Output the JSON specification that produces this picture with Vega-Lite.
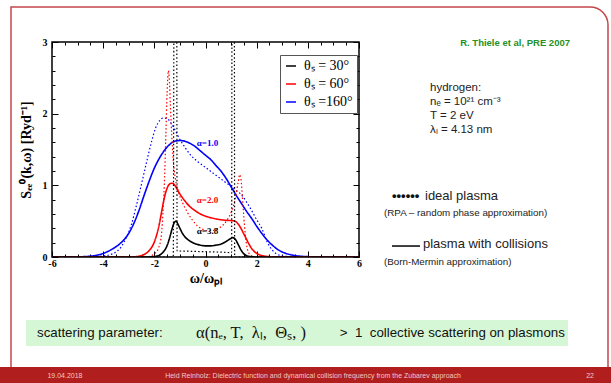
{
  "$schema": "https://vega.github.io/schema/vega-lite/v6.json",
  "width": 307,
  "height": 215,
  "autosize": {"type": "none"},
  "padding": {"left": 52, "top": 42, "right": 252, "bottom": 126},
  "background": "white",
  "config": {
    "view": {"stroke": "black", "strokeWidth": 1.5},
    "axis": {"labelColor": "black", "tickColor": "black", "titleColor": "black", "grid": false, "domain": false}
  },
  "datasets": {
    "curves": [
      {"theta":"160°","model":"BM","x":-6,"y":0},{"theta":"160°","model":"BM","x":-5,"y":0.003},{"theta":"160°","model":"BM","x":-4.5,"y":0.012},{"theta":"160°","model":"BM","x":-4,"y":0.05},{"theta":"160°","model":"BM","x":-3.6,"y":0.12},{"theta":"160°","model":"BM","x":-3.3,"y":0.2},{"theta":"160°","model":"BM","x":-3,"y":0.33},{"theta":"160°","model":"BM","x":-2.8,"y":0.47},{"theta":"160°","model":"BM","x":-2.6,"y":0.65},{"theta":"160°","model":"BM","x":-2.4,"y":0.86},{"theta":"160°","model":"BM","x":-2.2,"y":1.06},{"theta":"160°","model":"BM","x":-2,"y":1.24},{"theta":"160°","model":"BM","x":-1.8,"y":1.38},{"theta":"160°","model":"BM","x":-1.6,"y":1.49},{"theta":"160°","model":"BM","x":-1.4,"y":1.57},{"theta":"160°","model":"BM","x":-1.2,"y":1.615},{"theta":"160°","model":"BM","x":-1,"y":1.625},{"theta":"160°","model":"BM","x":-0.8,"y":1.615},{"theta":"160°","model":"BM","x":-0.6,"y":1.585},{"theta":"160°","model":"BM","x":-0.4,"y":1.54},{"theta":"160°","model":"BM","x":-0.2,"y":1.48},{"theta":"160°","model":"BM","x":0,"y":1.42},{"theta":"160°","model":"BM","x":0.2,"y":1.36},{"theta":"160°","model":"BM","x":0.4,"y":1.28},{"theta":"160°","model":"BM","x":0.6,"y":1.2},{"theta":"160°","model":"BM","x":0.8,"y":1.1},{"theta":"160°","model":"BM","x":1,"y":0.98},{"theta":"160°","model":"BM","x":1.2,"y":0.86},{"theta":"160°","model":"BM","x":1.4,"y":0.75},{"theta":"160°","model":"BM","x":1.6,"y":0.64},{"theta":"160°","model":"BM","x":1.8,"y":0.54},{"theta":"160°","model":"BM","x":2,"y":0.43},{"theta":"160°","model":"BM","x":2.2,"y":0.33},{"theta":"160°","model":"BM","x":2.4,"y":0.24},{"theta":"160°","model":"BM","x":2.6,"y":0.17},{"theta":"160°","model":"BM","x":2.8,"y":0.11},{"theta":"160°","model":"BM","x":3,"y":0.07},{"theta":"160°","model":"BM","x":3.3,"y":0.035},{"theta":"160°","model":"BM","x":3.6,"y":0.015},{"theta":"160°","model":"BM","x":4,"y":0.005},{"theta":"160°","model":"BM","x":4.5,"y":0.001},{"theta":"160°","model":"BM","x":6,"y":0},
      {"theta":"160°","model":"RPA","x":-6,"y":0},{"theta":"160°","model":"RPA","x":-4.5,"y":0.003},{"theta":"160°","model":"RPA","x":-4,"y":0.015},{"theta":"160°","model":"RPA","x":-3.6,"y":0.05},{"theta":"160°","model":"RPA","x":-3.3,"y":0.14},{"theta":"160°","model":"RPA","x":-3.1,"y":0.27},{"theta":"160°","model":"RPA","x":-2.9,"y":0.45},{"theta":"160°","model":"RPA","x":-2.7,"y":0.72},{"theta":"160°","model":"RPA","x":-2.5,"y":1.02},{"theta":"160°","model":"RPA","x":-2.3,"y":1.33},{"theta":"160°","model":"RPA","x":-2.1,"y":1.62},{"theta":"160°","model":"RPA","x":-1.95,"y":1.8},{"theta":"160°","model":"RPA","x":-1.8,"y":1.9},{"theta":"160°","model":"RPA","x":-1.65,"y":1.94},{"theta":"160°","model":"RPA","x":-1.5,"y":1.93},{"theta":"160°","model":"RPA","x":-1.35,"y":1.87},{"theta":"160°","model":"RPA","x":-1.2,"y":1.78},{"theta":"160°","model":"RPA","x":-1,"y":1.64},{"theta":"160°","model":"RPA","x":-0.8,"y":1.53},{"theta":"160°","model":"RPA","x":-0.6,"y":1.43},{"theta":"160°","model":"RPA","x":-0.3,"y":1.33},{"theta":"160°","model":"RPA","x":0,"y":1.25},{"theta":"160°","model":"RPA","x":0.3,"y":1.17},{"theta":"160°","model":"RPA","x":0.6,"y":1.09},{"theta":"160°","model":"RPA","x":0.9,"y":1.01},{"theta":"160°","model":"RPA","x":1.2,"y":0.93},{"theta":"160°","model":"RPA","x":1.4,"y":0.87},{"theta":"160°","model":"RPA","x":1.6,"y":0.77},{"theta":"160°","model":"RPA","x":1.8,"y":0.65},{"theta":"160°","model":"RPA","x":2,"y":0.52},{"theta":"160°","model":"RPA","x":2.2,"y":0.4},{"theta":"160°","model":"RPA","x":2.4,"y":0.22},{"theta":"160°","model":"RPA","x":2.6,"y":0.1},{"theta":"160°","model":"RPA","x":2.8,"y":0.04},{"theta":"160°","model":"RPA","x":3,"y":0.015},{"theta":"160°","model":"RPA","x":3.5,"y":0.002},{"theta":"160°","model":"RPA","x":6,"y":0},
      {"theta":"60°","model":"BM","x":-6,"y":0},{"theta":"60°","model":"BM","x":-3,"y":0.001},{"theta":"60°","model":"BM","x":-2.6,"y":0.01},{"theta":"60°","model":"BM","x":-2.4,"y":0.035},{"theta":"60°","model":"BM","x":-2.2,"y":0.09},{"theta":"60°","model":"BM","x":-2,"y":0.21},{"theta":"60°","model":"BM","x":-1.9,"y":0.32},{"theta":"60°","model":"BM","x":-1.8,"y":0.47},{"theta":"60°","model":"BM","x":-1.7,"y":0.66},{"theta":"60°","model":"BM","x":-1.6,"y":0.84},{"theta":"60°","model":"BM","x":-1.5,"y":0.96},{"theta":"60°","model":"BM","x":-1.4,"y":1.02},{"theta":"60°","model":"BM","x":-1.3,"y":1.03},{"theta":"60°","model":"BM","x":-1.2,"y":1},{"theta":"60°","model":"BM","x":-1.1,"y":0.94},{"theta":"60°","model":"BM","x":-1,"y":0.88},{"theta":"60°","model":"BM","x":-0.8,"y":0.78},{"theta":"60°","model":"BM","x":-0.6,"y":0.7},{"theta":"60°","model":"BM","x":-0.4,"y":0.645},{"theta":"60°","model":"BM","x":-0.2,"y":0.6},{"theta":"60°","model":"BM","x":0,"y":0.57},{"theta":"60°","model":"BM","x":0.3,"y":0.54},{"theta":"60°","model":"BM","x":0.6,"y":0.52},{"theta":"60°","model":"BM","x":0.9,"y":0.51},{"theta":"60°","model":"BM","x":1.1,"y":0.505},{"theta":"60°","model":"BM","x":1.2,"y":0.49},{"theta":"60°","model":"BM","x":1.3,"y":0.45},{"theta":"60°","model":"BM","x":1.4,"y":0.39},{"theta":"60°","model":"BM","x":1.5,"y":0.32},{"theta":"60°","model":"BM","x":1.6,"y":0.25},{"theta":"60°","model":"BM","x":1.7,"y":0.18},{"theta":"60°","model":"BM","x":1.8,"y":0.12},{"theta":"60°","model":"BM","x":1.9,"y":0.08},{"theta":"60°","model":"BM","x":2,"y":0.05},{"theta":"60°","model":"BM","x":2.2,"y":0.02},{"theta":"60°","model":"BM","x":2.5,"y":0.005},{"theta":"60°","model":"BM","x":3,"y":0},{"theta":"60°","model":"BM","x":6,"y":0},
      {"theta":"60°","model":"RPA","x":-6,"y":0},{"theta":"60°","model":"RPA","x":-2.3,"y":0.002},{"theta":"60°","model":"RPA","x":-2.1,"y":0.02},{"theta":"60°","model":"RPA","x":-1.95,"y":0.06},{"theta":"60°","model":"RPA","x":-1.83,"y":0.13},{"theta":"60°","model":"RPA","x":-1.72,"y":0.32},{"theta":"60°","model":"RPA","x":-1.65,"y":0.7},{"theta":"60°","model":"RPA","x":-1.6,"y":1.1},{"theta":"60°","model":"RPA","x":-1.55,"y":1.7},{"theta":"60°","model":"RPA","x":-1.5,"y":2.3},{"theta":"60°","model":"RPA","x":-1.45,"y":2.6},{"theta":"60°","model":"RPA","x":-1.41,"y":2.45},{"theta":"60°","model":"RPA","x":-1.37,"y":2.1},{"theta":"60°","model":"RPA","x":-1.32,"y":1.7},{"theta":"60°","model":"RPA","x":-1.26,"y":1.35},{"theta":"60°","model":"RPA","x":-1.18,"y":1.1},{"theta":"60°","model":"RPA","x":-1.05,"y":0.9},{"theta":"60°","model":"RPA","x":-0.9,"y":0.76},{"theta":"60°","model":"RPA","x":-0.7,"y":0.62},{"theta":"60°","model":"RPA","x":-0.5,"y":0.51},{"theta":"60°","model":"RPA","x":-0.3,"y":0.43},{"theta":"60°","model":"RPA","x":-0.1,"y":0.385},{"theta":"60°","model":"RPA","x":0.1,"y":0.365},{"theta":"60°","model":"RPA","x":0.3,"y":0.37},{"theta":"60°","model":"RPA","x":0.5,"y":0.4},{"theta":"60°","model":"RPA","x":0.7,"y":0.45},{"theta":"60°","model":"RPA","x":0.85,"y":0.52},{"theta":"60°","model":"RPA","x":1,"y":0.62},{"theta":"60°","model":"RPA","x":1.1,"y":0.72},{"theta":"60°","model":"RPA","x":1.2,"y":0.88},{"theta":"60°","model":"RPA","x":1.28,"y":1.05},{"theta":"60°","model":"RPA","x":1.34,"y":1.15},{"theta":"60°","model":"RPA","x":1.39,"y":1.08},{"theta":"60°","model":"RPA","x":1.44,"y":0.85},{"theta":"60°","model":"RPA","x":1.5,"y":0.55},{"theta":"60°","model":"RPA","x":1.56,"y":0.3},{"theta":"60°","model":"RPA","x":1.63,"y":0.12},{"theta":"60°","model":"RPA","x":1.72,"y":0.04},{"theta":"60°","model":"RPA","x":1.85,"y":0.01},{"theta":"60°","model":"RPA","x":2,"y":0},{"theta":"60°","model":"RPA","x":6,"y":0},
      {"theta":"30°","model":"BM","x":-6,"y":0},{"theta":"30°","model":"BM","x":-2.2,"y":0.001},{"theta":"30°","model":"BM","x":-2,"y":0.006},{"theta":"30°","model":"BM","x":-1.8,"y":0.025},{"theta":"30°","model":"BM","x":-1.65,"y":0.07},{"theta":"30°","model":"BM","x":-1.5,"y":0.16},{"theta":"30°","model":"BM","x":-1.4,"y":0.27},{"theta":"30°","model":"BM","x":-1.3,"y":0.4},{"theta":"30°","model":"BM","x":-1.22,"y":0.48},{"theta":"30°","model":"BM","x":-1.15,"y":0.5},{"theta":"30°","model":"BM","x":-1.08,"y":0.46},{"theta":"30°","model":"BM","x":-1,"y":0.4},{"theta":"30°","model":"BM","x":-0.9,"y":0.33},{"theta":"30°","model":"BM","x":-0.8,"y":0.28},{"theta":"30°","model":"BM","x":-0.6,"y":0.22},{"theta":"30°","model":"BM","x":-0.4,"y":0.185},{"theta":"30°","model":"BM","x":-0.2,"y":0.165},{"theta":"30°","model":"BM","x":0,"y":0.155},{"theta":"30°","model":"BM","x":0.2,"y":0.155},{"theta":"30°","model":"BM","x":0.4,"y":0.165},{"theta":"30°","model":"BM","x":0.6,"y":0.18},{"theta":"30°","model":"BM","x":0.8,"y":0.215},{"theta":"30°","model":"BM","x":0.95,"y":0.25},{"theta":"30°","model":"BM","x":1.07,"y":0.27},{"theta":"30°","model":"BM","x":1.17,"y":0.245},{"theta":"30°","model":"BM","x":1.27,"y":0.18},{"theta":"30°","model":"BM","x":1.37,"y":0.11},{"theta":"30°","model":"BM","x":1.47,"y":0.055},{"theta":"30°","model":"BM","x":1.6,"y":0.02},{"theta":"30°","model":"BM","x":1.8,"y":0.004},{"theta":"30°","model":"BM","x":2,"y":0},{"theta":"30°","model":"BM","x":6,"y":0},
      {"theta":"30°","model":"RPA","x":-6,"y":0},{"theta":"30°","model":"RPA","x":-1.26,"y":0},{"theta":"30°","model":"RPA","x":-1.23,"y":3.6},{"theta":"30°","model":"RPA","x":-1.125,"y":3.6},{"theta":"30°","model":"RPA","x":-1.11,"y":0.085},{"theta":"30°","model":"RPA","x":-0.8,"y":0.082},{"theta":"30°","model":"RPA","x":-0.4,"y":0.078},{"theta":"30°","model":"RPA","x":0,"y":0.074},{"theta":"30°","model":"RPA","x":0.4,"y":0.07},{"theta":"30°","model":"RPA","x":0.8,"y":0.065},{"theta":"30°","model":"RPA","x":1.02,"y":0.06},{"theta":"30°","model":"RPA","x":1.037,"y":3.6},{"theta":"30°","model":"RPA","x":1.127,"y":3.6},{"theta":"30°","model":"RPA","x":1.14,"y":0},{"theta":"30°","model":"RPA","x":6,"y":0}
    ]
  },
  "layer": [
    {
      "data": {"values": [{"x": -7.603, "x2": 15.733, "y": 3.488, "y2": -1.65}]},
      "mark": {"type": "rect", "filled": false, "stroke": "#c4474a", "strokeWidth": 1.5, "cornerRadiusTopRight": 18},
      "encoding": {
        "x": {"field": "x", "type": "quantitative", "scale": {"domain": [-6, 6], "nice": false}, "axis": null},
        "x2": {"field": "x2"},
        "y": {"field": "y", "type": "quantitative", "scale": {"domain": [0, 3], "nice": false}, "axis": null},
        "y2": {"field": "y2"}
      }
    },
    {
      "data": {"values": [{"x": -7.016, "x2": 14.17, "y": -0.879, "y2": -1.242}]},
      "mark": {"type": "rect", "fill": "#d6f7d6"},
      "encoding": {
        "x": {"field": "x", "type": "quantitative", "scale": {"domain": [-6, 6], "nice": false}, "axis": null},
        "x2": {"field": "x2"},
        "y": {"field": "y", "type": "quantitative", "scale": {"domain": [0, 3], "nice": false}, "axis": null},
        "y2": {"field": "y2"}
      }
    },
    {
      "data": {"values": [{"x": -8.1, "x2": 15.9, "y": -1.535, "y2": -1.8}]},
      "mark": {"type": "rect", "fill": "#b01e1e"},
      "encoding": {
        "x": {"field": "x", "type": "quantitative", "scale": {"domain": [-6, 6], "nice": false}, "axis": null},
        "x2": {"field": "x2"},
        "y": {"field": "y", "type": "quantitative", "scale": {"domain": [0, 3], "nice": false}, "axis": null},
        "y2": {"field": "y2"}
      }
    },
    {
      "data": {"name": "curves"},
      "mark": {"type": "line", "clip": true, "interpolate": "monotone"},
      "encoding": {
        "x": {"field": "x", "type": "quantitative", "scale": {"domain": [-6, 6], "nice": false},
          "axis": {"orient": "bottom", "values": [-6,-5.5,-5,-4.5,-4,-3.5,-3,-2.5,-2,-1.5,-1,-0.5,0,0.5,1,1.5,2,2.5,3,3.5,4,4.5,5,5.5,6],
            "labelExpr": "datum.value % 2 === 0 ? '' + datum.value : ''",
            "tickSize": {"condition": {"test": "datum.value % 2 === 0", "value": -6}, "value": -3},
            "labelPadding": 7, "labelFont": "Liberation Serif", "labelFontWeight": "bold", "labelFontSize": 10,
            "labelFlush": false, "labelOverlap": false,
            "title": "ω/ωₚₗ", "titleFont": "Liberation Serif", "titleFontSize": 14, "titleFontWeight": "bold", "titlePadding": 0}},
        "y": {"field": "y", "type": "quantitative", "scale": {"domain": [0, 3], "nice": false},
          "axis": {"orient": "left", "values": [0,0.2,0.4,0.6,0.8,1,1.2,1.4,1.6,1.8,2,2.2,2.4,2.6,2.8,3],
            "labelExpr": "datum.value % 1 === 0 ? '' + datum.value : ''",
            "tickSize": {"condition": {"test": "datum.value % 1 === 0", "value": -6}, "value": -3},
            "labelPadding": 11, "labelFont": "Liberation Serif", "labelFontWeight": "bold", "labelFontSize": 10,
            "labelFlush": false, "labelOverlap": false,
            "title": "Sₑₑ⁰(k,ω) [Ryd⁻¹]", "titleFont": "Liberation Serif", "titleFontSize": 14, "titleFontWeight": "bold", "titlePadding": 9}},
        "color": {"field": "theta", "type": "nominal",
          "scale": {"domain": ["30°", "60°", "160°"], "range": ["#000000", "#ff0000", "#0000ff"]},
          "legend": {"orient": "none", "legendX": 228, "legendY": 13, "title": null,
            "labelExpr": "'θₛ =' + (datum.label === '160°' ? '' : ' ') + datum.label",
            "strokeColor": "#555555", "fillColor": "white", "padding": 4,
            "labelFont": "Liberation Serif", "labelFontSize": 14, "labelColor": "black", "labelLimit": 0,
            "symbolType": "stroke", "symbolSize": 100, "symbolStrokeWidth": 1.5, "rowPadding": 4, "labelOffset": 6}},
        "strokeDash": {"field": "model", "type": "nominal", "scale": {"domain": ["BM", "RPA"], "range": [[1, 0], [1.5, 2.2]]}, "legend": null},
        "strokeWidth": {"field": "model", "type": "nominal", "scale": {"domain": ["BM", "RPA"], "range": [1.6, 1.2]}, "legend": null}
      }
    },
    {
      "data": {"values": [
        {"x": 0.08, "y": 1.59, "label": "α=1.0", "theta": "160°"},
        {"x": 0.08, "y": 0.795, "label": "α=2.0", "theta": "60°"},
        {"x": 0.08, "y": 0.363, "label": "α=3.8", "theta": "30°"}
      ]},
      "mark": {"type": "text", "font": "Liberation Serif", "fontWeight": "bold", "fontSize": 9, "baseline": "middle"},
      "encoding": {
        "x": {"field": "x", "type": "quantitative", "scale": {"domain": [-6, 6], "nice": false},
          "axis": {"orient": "top", "values": [-6,-5.5,-5,-4.5,-4,-3.5,-3,-2.5,-2,-1.5,-1,-0.5,0,0.5,1,1.5,2,2.5,3,3.5,4,4.5,5,5.5,6],
            "labels": false, "title": null,
            "tickSize": {"condition": {"test": "datum.value % 2 === 0", "value": -6}, "value": -3}}},
        "y": {"field": "y", "type": "quantitative", "scale": {"domain": [0, 3], "nice": false},
          "axis": {"orient": "right", "values": [0,0.2,0.4,0.6,0.8,1,1.2,1.4,1.6,1.8,2,2.2,2.4,2.6,2.8,3],
            "labels": false, "title": null,
            "tickSize": {"condition": {"test": "datum.value % 1 === 0", "value": -6}, "value": -3}}},
        "text": {"field": "label"},
        "color": {"field": "theta", "type": "nominal", "legend": null}
      }
    },
    {
      "data": {"values": [
        {"x": 8.776, "y": 2.358, "t": "hydrogen:"},
        {"x": 8.776, "y": 2.163, "t": "nₑ = 10²¹ cm⁻³"},
        {"x": 8.776, "y": 1.967, "t": "T  = 2 eV"},
        {"x": 8.776, "y": 1.772, "t": "λₗ = 4.13 nm"}
      ]},
      "mark": {"type": "text", "font": "Liberation Sans", "fontSize": 11.5, "color": "#222222", "align": "left", "baseline": "middle"},
      "encoding": {
        "x": {"field": "x", "type": "quantitative", "scale": {"domain": [-6, 6], "nice": false}, "axis": null},
        "y": {"field": "y", "type": "quantitative", "scale": {"domain": [0, 3], "nice": false}, "axis": null},
        "text": {"field": "t"}
      }
    },
    {
      "data": {"values": [
        {"x": 8.58, "y": 0.851, "t": "ideal plasma"},
        {"x": 8.5, "y": 0.181, "t": "plasma with collisions"}
      ]},
      "mark": {"type": "text", "font": "Liberation Sans", "fontSize": 13, "color": "#222222", "align": "left", "baseline": "middle"},
      "encoding": {
        "x": {"field": "x", "type": "quantitative", "scale": {"domain": [-6, 6], "nice": false}, "axis": null},
        "y": {"field": "y", "type": "quantitative", "scale": {"domain": [0, 3], "nice": false}, "axis": null},
        "text": {"field": "t"}
      }
    },
    {
      "data": {"values": [
        {"x": 6.977, "y": 0.614, "t": "(RPA – random phase approximation)"},
        {"x": 6.977, "y": -0.07, "t": "(Born-Mermin approximation)"}
      ]},
      "mark": {"type": "text", "font": "Liberation Sans", "fontSize": 9.8, "color": "#222222", "align": "left", "baseline": "middle"},
      "encoding": {
        "x": {"field": "x", "type": "quantitative", "scale": {"domain": [-6, 6], "nice": false}, "axis": null},
        "y": {"field": "y", "type": "quantitative", "scale": {"domain": [0, 3], "nice": false}, "axis": null},
        "text": {"field": "t"}
      }
    },
    {
      "data": {"values": [{"x": 7.29, "y": 0.851, "t": "••••••"}]},
      "mark": {"type": "text", "font": "Liberation Sans", "fontSize": 13, "fontWeight": "bold", "color": "#111111", "align": "left", "baseline": "middle"},
      "encoding": {
        "x": {"field": "x", "type": "quantitative", "scale": {"domain": [-6, 6], "nice": false}, "axis": null},
        "y": {"field": "y", "type": "quantitative", "scale": {"domain": [0, 3], "nice": false}, "axis": null},
        "text": {"field": "t"}
      }
    },
    {
      "data": {"values": [{"x": 7.29, "x2": 8.385, "y": 0.153}]},
      "mark": {"type": "rule", "color": "#111111", "strokeWidth": 1.6},
      "encoding": {
        "x": {"field": "x", "type": "quantitative", "scale": {"domain": [-6, 6], "nice": false}, "axis": null},
        "x2": {"field": "x2"},
        "y": {"field": "y", "type": "quantitative", "scale": {"domain": [0, 3], "nice": false}, "axis": null}
      }
    },
    {
      "data": {"values": [{"x": 14.248, "y": 2.986, "t": "R. Thiele et al, PRE 2007"}]},
      "mark": {"type": "text", "font": "Liberation Sans", "fontSize": 9.5, "fontWeight": "bold", "color": "#249124", "align": "right", "baseline": "middle"},
      "encoding": {
        "x": {"field": "x", "type": "quantitative", "scale": {"domain": [-6, 6], "nice": false}, "axis": null},
        "y": {"field": "y", "type": "quantitative", "scale": {"domain": [0, 3], "nice": false}, "axis": null},
        "text": {"field": "t"}
      }
    },
    {
      "data": {"values": [
        {"x": -6.586, "y": -1.06, "t": "scattering parameter:"},
        {"x": 5.25, "y": -1.06, "t": "> \u00a01 \u00a0collective scattering on plasmons"}
      ]},
      "mark": {"type": "text", "font": "Liberation Sans", "fontSize": 13.3, "color": "#111111", "align": "left", "baseline": "middle"},
      "encoding": {
        "x": {"field": "x", "type": "quantitative", "scale": {"domain": [-6, 6], "nice": false}, "axis": null},
        "y": {"field": "y", "type": "quantitative", "scale": {"domain": [0, 3], "nice": false}, "axis": null},
        "text": {"field": "t"}
      }
    },
    {
      "data": {"values": [{"x": -0.37, "y": -1.06, "t": "α(nₑ, T, \u00a0λₗ, \u00a0Θₛ, )"}]},
      "mark": {"type": "text", "font": "Liberation Serif", "fontSize": 16.5, "color": "#111111", "align": "left", "baseline": "middle"},
      "encoding": {
        "x": {"field": "x", "type": "quantitative", "scale": {"domain": [-6, 6], "nice": false}, "axis": null},
        "y": {"field": "y", "type": "quantitative", "scale": {"domain": [0, 3], "nice": false}, "axis": null},
        "text": {"field": "t"}
      }
    },
    {
      "data": {"values": [
        {"x": -5.492, "y": -1.66, "t": "19.04.2018"},
        {"x": 4.202, "y": -1.66, "t": "Heid Reinholz: Dielectric function and dynamical collision frequency from the Zubarev approach"},
        {"x": 15.03, "y": -1.66, "t": "22"}
      ]},
      "mark": {"type": "text", "font": "Liberation Sans", "fontSize": 7, "color": "#f3c6c6", "align": "center", "baseline": "middle"},
      "encoding": {
        "x": {"field": "x", "type": "quantitative", "scale": {"domain": [-6, 6], "nice": false}, "axis": null},
        "y": {"field": "y", "type": "quantitative", "scale": {"domain": [0, 3], "nice": false}, "axis": null},
        "text": {"field": "t"}
      }
    }
  ],
  "resolve": {"axis": {"x": "independent", "y": "independent"}}
}
